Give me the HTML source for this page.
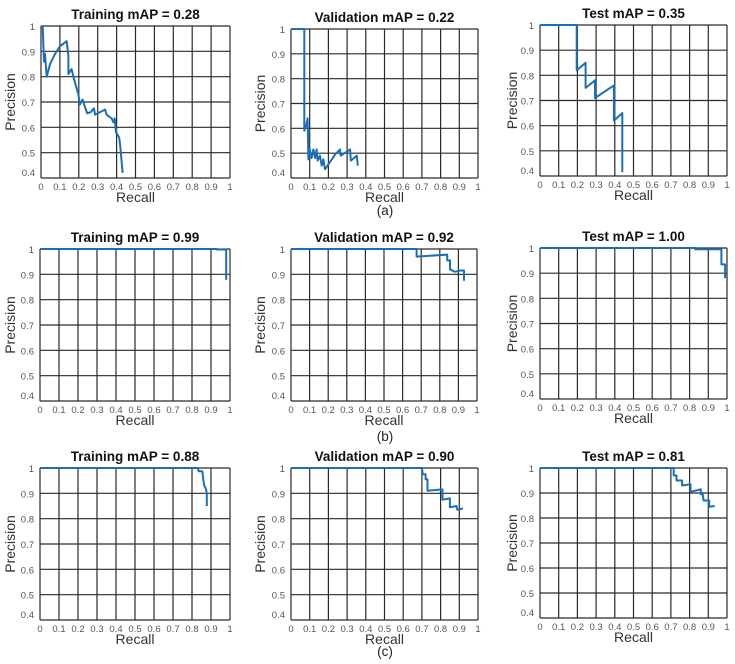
<!DOCTYPE html>
<html><head><meta charset="utf-8"><style>
html,body{margin:0;padding:0;background:#fff;}
svg{display:block;font-family:"Liberation Sans",sans-serif;}
</style></head><body>
<svg id="fig" width="735" height="664" viewBox="0 0 735 664"></svg>
<script>
// ---- data (recall / precision) ----
const aTrainR=[0.009,0.016,0.021,0.03,0.048,0.074,0.10,0.136,0.145,0.145,0.162,0.175,0.19,0.198,0.206,0.22,0.233,0.245,0.263,0.28,0.286,0.312,0.339,0.347,0.374,0.383,0.39,0.397,0.414,0.42,0.432];
const aTrainP=[1.0,0.86,0.89,0.80,0.85,0.89,0.92,0.94,0.88,0.81,0.83,0.79,0.75,0.73,0.69,0.71,0.68,0.655,0.66,0.675,0.65,0.66,0.67,0.65,0.635,0.62,0.635,0.58,0.56,0.52,0.42];
const aValR=[0,0.071,0.071,0.084,0.089,0.093,0.10,0.11,0.12,0.129,0.137,0.143,0.155,0.164,0.173,0.182,0.218,0.236,0.262,0.266,0.316,0.32,0.352,0.357];
const aValP=[1.0,1.0,0.59,0.62,0.64,0.475,0.515,0.48,0.515,0.48,0.515,0.47,0.49,0.45,0.475,0.435,0.475,0.495,0.515,0.49,0.515,0.47,0.49,0.45];
const aTestR=[0,0.196,0.196,0.244,0.244,0.294,0.294,0.395,0.395,0.44,0.44];
const aTestP=[1.0,1.0,0.82,0.85,0.75,0.78,0.71,0.76,0.62,0.65,0.415];
const bTrainR=[0,0.93,0.93,0.98,0.98];
const bTrainP=[1.0,1.0,0.998,0.998,0.878];
const bValR=[0,0.675,0.675,0.84,0.84,0.855,0.855,0.88,0.91,0.93,0.93];
const bValP=[1.0,1.0,0.97,0.978,0.955,0.955,0.92,0.91,0.915,0.915,0.875];
const bTestR=[0,0.83,0.83,0.97,0.97,0.99,0.99];
const bTestP=[1.0,1.0,0.995,0.995,0.935,0.935,0.88];
const cTrainR=[0,0.83,0.835,0.855,0.86,0.865,0.872,0.878,0.878];
const cTrainP=[1.0,1.0,0.987,0.987,0.95,0.93,0.92,0.90,0.85];
const cValR=[0,0.70,0.705,0.72,0.72,0.73,0.73,0.80,0.81,0.81,0.85,0.85,0.885,0.89,0.92];
const cValP=[1.0,1.0,0.975,0.975,0.955,0.955,0.91,0.915,0.915,0.875,0.88,0.845,0.85,0.835,0.84];
const cTestR=[0,0.715,0.715,0.73,0.73,0.76,0.76,0.805,0.805,0.86,0.86,0.87,0.875,0.905,0.905,0.935];
const cTestP=[1.0,1.0,0.97,0.97,0.95,0.95,0.93,0.935,0.905,0.915,0.895,0.895,0.87,0.87,0.845,0.848];
const xTicks=["0","0.1","0.2","0.3","0.4","0.5","0.6","0.7","0.8","0.9","1"];
const yTicks=["0.4","0.5","0.6","0.7","0.8","0.9","1"];
const titles=["Training mAP = 0.28","Validation mAP = 0.22","Test mAP = 0.35","Training mAP = 0.99","Validation mAP = 0.92","Test mAP = 1.00","Training mAP = 0.88","Validation mAP = 0.90","Test mAP = 0.81"];
const captions=["(a)","(b)","(c)"];

const svg=document.getElementById('fig');
const NS='http://www.w3.org/2000/svg';
function mk(tag,attrs,parent){const e=document.createElementNS(NS,tag);for(const k in attrs)e.setAttribute(k,attrs[k]);(parent||svg).appendChild(e);return e;}
const boxes=[[41,230,26,178],[291,478,29,178],[540,727,25,176],
             [40,230,249,401],[291,477,249,401],[540,727,248,399],
             [40,230,468,620],[291,478,468,620],[540,727,468,618]];
const series=[[aTrainR,aTrainP],[aValR,aValP],[aTestR,aTestP],[bTrainR,bTrainP],[bValR,bValP],[bTestR,bTestP],[cTrainR,cTrainP],[cValR,cValP],[cTestR,cTestP]];
const names=['a-training','a-validation','a-test','b-training','b-validation','b-test','c-training','c-validation','c-test'];
const plabelX=[10,260,512];
boxes.forEach((b,i)=>{
  const [L,R,T,B]=b;
  const sx=v=>L+(R-L)*v;
  const sy=v=>B-(B-T)*(v-0.4)/0.6;
  const g=mk('g',{});
  
  
  for(let k=0;k<=10;k++){const x=sx(k/10);const l=mk('line',{x1:x,x2:x,y1:T,y2:B,stroke:'#2a2a2a','stroke-width':1.2},g);
    const t=mk('text',{x:x,y:B+12,'font-size':9.5,fill:'#555','text-anchor':'middle'},g);t.textContent=xTicks[k];}
  for(let k=0;k<=6;k++){const v=0.4+k*0.1;const y=sy(v);const l=mk('line',{x1:L,x2:R,y1:y,y2:y,stroke:'#2a2a2a','stroke-width':1.2},g);
    const t=mk('text',{x:L-6,y:y+(k==0?-2:4),'font-size':9.5,fill:'#555','text-anchor':'end'},g);t.textContent=yTicks[k];}
  const tt=mk('text',{x:(L+R)/2,y:T-7,'font-size':13.5,'font-weight':'bold',fill:'#111','text-anchor':'middle'},g);tt.textContent=titles[i];
  
  const xl=mk('text',{x:(L+R)/2,y:B+24,'font-size':14,fill:'#333','text-anchor':'middle'},g);xl.textContent='Recall';
  
  const px=plabelX[i%3],py=(T+B)/2;
  const yl=mk('text',{x:px,y:py,'font-size':14,fill:'#333','text-anchor':'middle',transform:`rotate(-90 ${px} ${py}) translate(0 5)`},g);yl.textContent='Precision';
  
  const [rr,pp]=series[i];
  const pts=rr.map((r,j)=>sx(r).toFixed(1)+','+sy(pp[j]).toFixed(1)).join(' ');
  const pl=mk('polyline',{points:pts,fill:'none',stroke:'#1a6fb8','stroke-width':2,'stroke-linejoin':'round'},g);
  
  
});
const capY=[215,441,656];
captions.forEach((c,i)=>{const t=mk('text',{x:385,y:capY[i],'font-size':13.5,fill:'#222','text-anchor':'middle'});t.textContent=c;
  });
</script>
</body></html>
